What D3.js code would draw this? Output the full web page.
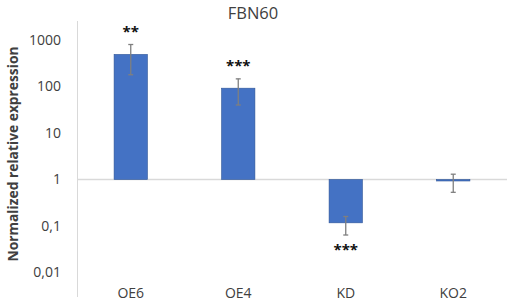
<!DOCTYPE html>
<html><head><meta charset="utf-8">
<script src="https://cdn.jsdelivr.net/npm/d3@7"></script>
<style>body{margin:0;background:#fff}svg{display:block}</style>
</head><body>
<svg id="c" width="510" height="302"></svg>
<script>
const categories = ["OE6", "OE4", "KD", "KO2"];
const values = [490, 92, 0.117, 0.95];
const errHigh = [800, 146, 0.16, 1.3];
const errLow = [179, 40, 0.064, 0.53];
const stars = ["**", "***", "***", ""];
const yTicks = [0.01, 0.1, 1, 10, 100, 1000];
const tickLabels = ["0,01", "0,1", "1", "10", "100", "1000"];
const title = "FBN60";
const yTitle = "Normalized relative expression";

const svg = d3.select("#c");
const x = d3.scaleBand().domain(categories).range([77, 507]).paddingInner(0.69).paddingOuter(0.345);
const y = d3.scaleLog().domain([0.01, 1000]).range([272.5, 40]);
const font = "'Open Sans', 'Liberation Sans', sans-serif";
const txt = "#404040";

// title
svg.append("text").attr("x", 253).attr("y", 19).attr("text-anchor", "middle")
  .attr("font-family", font).attr("font-size", 16.5).attr("fill", txt).text(title);

// y axis line
svg.append("line").attr("x1", 77.5).attr("x2", 77.5).attr("y1", 21).attr("y2", 297)
  .attr("stroke", "#d9d9d9").attr("stroke-width", 1);

// y tick labels
const yAxis = d3.axisLeft(y).tickValues(yTicks).tickSize(0).tickPadding(0)
  .tickFormat((d, i) => tickLabels[i]);
const ga = svg.append("g").attr("transform", "translate(61,0)").call(yAxis);
ga.select(".domain").remove();
ga.selectAll("text").attr("font-family", font).attr("font-size", 14).attr("fill", txt);

// baseline at 1
svg.append("line").attr("x1", 77).attr("x2", 507).attr("y1", y(1)).attr("y2", y(1))
  .attr("stroke", "#d9d9d9").attr("stroke-width", 1.5);

// bars
svg.selectAll("rect.bar").data(values).join("rect").attr("class", "bar")
  .attr("x", (d, i) => x(categories[i]))
  .attr("width", x.bandwidth())
  .attr("y", d => Math.min(y(d), y(1)))
  .attr("height", d => Math.max(1.5, Math.abs(y(d) - y(1))))
  .attr("fill", "#4472C4").attr("stroke", "#2F5597").attr("stroke-width", 0.6);

// error bars
const ec = "#7f7f7f";
categories.forEach((c, i) => {
  const cx = x(c) + x.bandwidth() / 2;
  const g = svg.append("g").attr("stroke", ec).attr("stroke-width", 1.3);
  g.append("line").attr("x1", cx).attr("x2", cx).attr("y1", y(errHigh[i])).attr("y2", y(errLow[i]));
  g.append("line").attr("x1", cx - 2.5).attr("x2", cx + 2.5).attr("y1", y(errHigh[i])).attr("y2", y(errHigh[i]));
  g.append("line").attr("x1", cx - 2.5).attr("x2", cx + 2.5).attr("y1", y(errLow[i])).attr("y2", y(errLow[i]));
  if (stars[i]) {
    const above = values[i] >= 1;
    const sy = above ? y(errHigh[i]) - 8 : y(errLow[i]) + 20;
    svg.append("text").attr("x", cx).attr("y", sy).attr("text-anchor", "middle")
      .attr("font-family", font).attr("font-size", 15).attr("font-weight", "bold")
      .attr("fill", "#111").text(stars[i]);
  }
});

// x labels
const xAxis = d3.axisBottom(x).tickSize(0).tickPadding(0);
const gx = svg.append("g").attr("transform", "translate(0,288)").call(xAxis);
gx.select(".domain").remove();
gx.selectAll("text").attr("font-family", font).attr("font-size", 14).attr("fill", txt);

// y title
svg.append("text").attr("transform", "translate(18,154) rotate(-90)")
  .attr("text-anchor", "middle").attr("font-family", font).attr("font-size", 13.8)
  .attr("font-weight", "bold").attr("fill", txt).text(yTitle);
</script>
</body></html>
